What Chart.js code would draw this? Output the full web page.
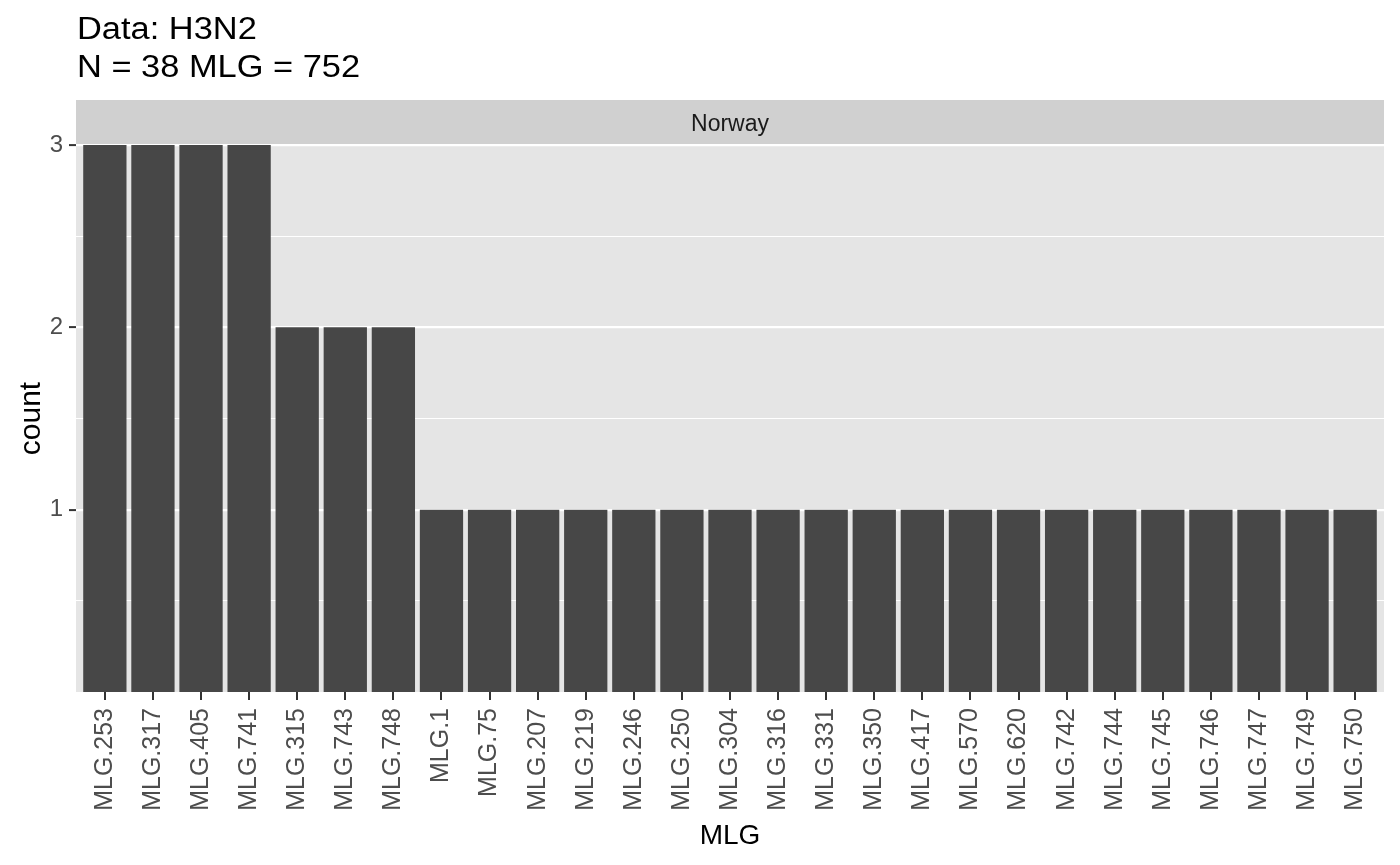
<!DOCTYPE html>
<html>
<head>
<meta charset="utf-8">
<script src="https://cdn.jsdelivr.net/npm/chart.js@4.4.1/dist/chart.umd.min.js"></script>
<style>
html,body{margin:0;padding:0;background:#fff;}
#wrap{width:1400px;height:865px;}
</style>
</head>
<body>
<div id="wrap"><canvas id="mlgChart" width="1400" height="865"></canvas></div>
<script>
// MLG counts, H3N2 / Norway

const mlgs = ["MLG.253","MLG.317","MLG.405","MLG.741","MLG.315","MLG.743","MLG.748",
  "MLG.1","MLG.75","MLG.207","MLG.219","MLG.246","MLG.250","MLG.304","MLG.316",
  "MLG.331","MLG.350","MLG.417","MLG.570","MLG.620","MLG.742","MLG.744","MLG.745",
  "MLG.746","MLG.747","MLG.749","MLG.750"];
const counts = [3,3,3,3,2,2,2,1,1,1,1,1,1,1,1,1,1,1,1,1,1,1,1,1,1,1,1];
const yTicks = [1,2,3];
const titleLines = ["Data: H3N2","N = 38 MLG = 752"];
const facet = "Norway";

const FONT = '"Liberation Sans", Arial, Helvetica, sans-serif';

const ggDecor = {
  id: "ggDecor",
  beforeDraw(chart){
    const {ctx, chartArea:a} = chart;
    ctx.save();
    ctx.fillStyle = "#E5E5E5";
    ctx.fillRect(a.left, a.top, a.right - a.left, a.bottom - a.top);
    // facet strip
    ctx.fillStyle = "#D0D0D0";
    ctx.fillRect(a.left, 100, a.right - a.left, a.top - 100);
    ctx.fillStyle = "#1A1A1A";
    ctx.font = "23px " + FONT;
    ctx.textAlign = "center";
    ctx.textBaseline = "alphabetic";
    ctx.fillText(facet, (a.left + a.right) / 2, 131);
    // axis titles
    ctx.fillStyle = "#000";
    ctx.font = "28px " + FONT;
    ctx.fillText("MLG", (a.left + a.right) / 2, 844);
    ctx.save();
    ctx.font = "30px " + FONT;
    ctx.translate(40, (a.top + a.bottom) / 2);
    ctx.rotate(-Math.PI / 2);
    ctx.fillText("count", 0, 0);
    ctx.restore();
    // title (reference text is a bit wide)
    ctx.font = "31px " + FONT;
    ctx.textAlign = "left";
    ctx.translate(77, 0);
    ctx.scale(1.11, 1);
    ctx.fillText(titleLines[0], 0, 39);
    ctx.fillText(titleLines[1], 0, 77);
    ctx.restore();
  }
};

new Chart(document.getElementById("mlgChart"), {
  type: "bar",
  data: {
    datasets: [{
      data: counts.map((c, i) => ({x: i, y: c})),
      backgroundColor: "#474747",
      borderWidth: 0,
      barPercentage: 0.9,
      categoryPercentage: 1
    }]
  },
  options: {
    responsive: false,
    animation: false,
    layout: {padding: {left: 0, top: 145, right: 16, bottom: 0}},
    plugins: {legend: {display: false}, tooltip: {enabled: false}},
    scales: {
      x: {
        type: "linear",
        offset: false,
        min: -0.6,
        max: mlgs.length - 0.4,
        afterBuildTicks(scale){ scale.ticks = mlgs.map((_, i) => ({value: i})); },
        afterFit(scale){ scale.height = 173; },
        border: {display: false},
        grid: {offset: false, drawOnChartArea: false, drawTicks: true, tickLength: 8, tickColor: "#333333", lineWidth: 2},
        ticks: {
          autoSkip: false,
          minRotation: 90,
          maxRotation: 90,
          padding: 8,
          color: "#4D4D4D",
          font: {family: FONT, size: 25},
          callback: v => mlgs[v]
        }
      },
      y: {
        min: 0,
        max: 3,
        afterBuildTicks(scale){
          const t = [];
          for (const v of yTicks) { t.push({value: v - 0.5}); t.push({value: v}); }
          scale.ticks = t;
        },
        afterFit(scale){ scale.width = 76; },
        border: {display: false},
        grid: {
          drawTicks: true,
          tickLength: 7,
          color: "#FFFFFF",
          lineWidth: c => (Number.isInteger(c.tick.value) ? 2.2 : 1.1),
          tickColor: c => (Number.isInteger(c.tick.value) ? "#333333" : "rgba(0,0,0,0)"),
          tickWidth: 2
        },
        ticks: {
          padding: 6,
          color: "#4D4D4D",
          font: {family: FONT, size: 24},
          callback: v => (yTicks.includes(v) ? String(v) : "")
        }
      }
    }
  },
  plugins: [ggDecor]
});
</script>
</body>
</html>
